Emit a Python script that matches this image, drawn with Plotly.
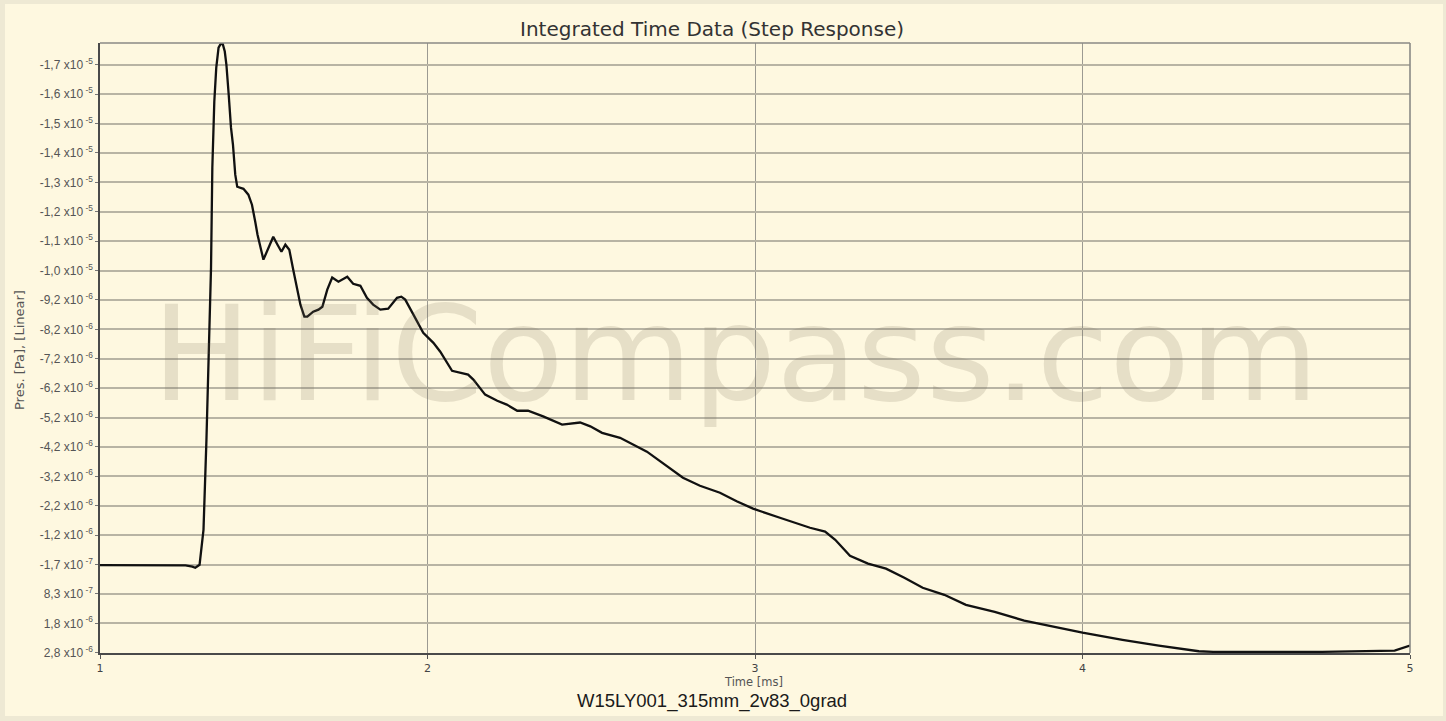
import plotly.graph_objects as go

# ---- data ----
time_ms = [1.000, 1.178, 1.261, 1.282, 1.291, 1.304, 1.310, 1.316, 1.325, 1.334, 1.339, 1.343,
           1.349, 1.355, 1.362, 1.368, 1.375, 1.381, 1.386, 1.393, 1.400, 1.406, 1.413, 1.419,
           1.429, 1.438, 1.453, 1.464, 1.474, 1.481, 1.499, 1.514, 1.529, 1.542, 1.554, 1.566,
           1.578, 1.590, 1.603, 1.612, 1.624, 1.633, 1.651, 1.667, 1.679, 1.694, 1.709, 1.728,
           1.755, 1.773, 1.795, 1.815, 1.834, 1.856, 1.880, 1.907, 1.920, 1.932, 1.957, 1.987,
           2.018, 2.039, 2.075, 2.124, 2.140, 2.176, 2.213, 2.242, 2.274, 2.307, 2.353, 2.411,
           2.466, 2.497, 2.533, 2.588, 2.670, 2.710, 2.780, 2.832, 2.893, 2.944, 2.994, 3.076,
           3.168, 3.214, 3.245, 3.290, 3.345, 3.400, 3.456, 3.512, 3.578, 3.644, 3.732, 3.822,
           3.911, 4.000, 4.122, 4.233, 4.355, 4.399, 4.732, 4.953, 5.000]
pressure_upa = [-0.15, -0.15, -0.14, -0.10, -0.06, -0.16, -0.67, -1.35, -4.41, -7.99, -10.26, -13.67,
                -15.91, -17.07, -17.75, -17.87, -17.87, -17.62, -17.17, -16.15, -15.03, -14.45, -13.43, -13.02,
                -12.99, -12.95, -12.75, -12.41, -11.83, -11.39, -10.54, -10.95, -11.32, -11.05, -10.81, -11.05,
                -10.88, -10.20, -9.45, -9.01, -8.60, -8.60, -8.77, -8.84, -8.94, -9.52, -9.93, -9.79,
                -9.96, -9.72, -9.65, -9.24, -9.01, -8.84, -8.87, -9.24, -9.28, -9.18, -8.67, -8.05,
                -7.71, -7.41, -6.76, -6.63, -6.46, -5.95, -5.74, -5.61, -5.40, -5.40, -5.21, -4.93,
                -5.00, -4.87, -4.65, -4.48, -4.01, -3.68, -3.12, -2.85, -2.61, -2.32, -2.07, -1.76,
                -1.42, -1.29, -1.01, -0.47, -0.20, -0.03, 0.28, 0.62, 0.86, 1.20, 1.44, 1.74,
                1.95, 2.15, 2.39, 2.59, 2.78, 2.80, 2.80, 2.76, 2.59]

y_tick_vals = [-17.17, -16.17, -15.17, -14.17, -13.17, -12.17, -11.17, -10.17, -9.17, -8.17, -7.17,
               -6.17, -5.17, -4.17, -3.17, -2.17, -1.17, -0.17, 0.83, 1.83, 2.83]
y_tick_mant = ["-1,7", "-1,6", "-1,5", "-1,4", "-1,3", "-1,2", "-1,1", "-1,0", "-9,2", "-8,2", "-7,2",
               "-6,2", "-5,2", "-4,2", "-3,2", "-2,2", "-1,2", "-1,7", "8,3", "1,8", "2,8"]
y_tick_exp = ["-5", "-5", "-5", "-5", "-5", "-5", "-5", "-5", "-6", "-6", "-6",
              "-6", "-6", "-6", "-6", "-6", "-6", "-7", "-7", "-6", "-6"]
x_tick_vals = [1, 2, 3, 4, 5]

title_text = "Integrated Time Data (Step Response)"
x_title = "Time [ms]"
y_title = "Pres. [Pa], [Linear]"
caption = "W15LY001_315mm_2v83_0grad"
watermark = "HiFiCompass.com"

W, H = 1446, 721
L, R, T, B = 100, 36, 43, 68
cream = "#FEF8E0"
frame = "#EEE9D4"

y_tick_text = [f"{m} x10<sup> {e}</sup>" for m, e in zip(y_tick_mant, y_tick_exp)]

fig = go.Figure()
fig.add_trace(go.Scatter(x=time_ms, y=pressure_upa, mode="lines",
                         line=dict(color="#111111", width=2.3), hoverinfo="x+y",
                         showlegend=False))

pw = W - L - R
ph = H - T - B

def px_x(p):
    return (p - L) / pw

def px_y(p):
    return (H - B - p) / ph

fig.update_layout(
    width=W, height=H,
    margin=dict(l=L, r=R, t=T, b=B),
    paper_bgcolor=frame,
    plot_bgcolor=cream,
    showlegend=False,
    xaxis=dict(range=[1, 5], tickvals=x_tick_vals, ticktext=[str(v) for v in x_tick_vals],
               showgrid=True, gridcolor="#9C9A92", gridwidth=1.3,
               showline=True, linecolor="#4A4A4A", linewidth=1.5,
               ticks="outside", ticklen=4, tickcolor="#555555",
               tickfont=dict(family="DejaVu Sans", size=11, color="#444444"),
               zeroline=False),
    yaxis=dict(range=[2.84, -17.91], tickvals=y_tick_vals, ticktext=y_tick_text,
               showgrid=True, gridcolor="#B8B4A4", gridwidth=1.6,
               showline=True, linecolor="#4A4A4A", linewidth=1.5,
               ticks="outside", ticklen=3, tickcolor="#777777",
               tickfont=dict(family="Liberation Sans", size=12, color="#555555"),
               zeroline=False),
    shapes=[
        dict(type="rect", xref="paper", yref="paper",
             x0=px_x(5), x1=px_x(W - 3), y0=px_y(H - 5), y1=px_y(4),
             fillcolor=cream, line=dict(width=0), layer="below"),
        dict(type="line", xref="paper", yref="paper", x0=0, x1=1, y0=1, y1=1,
             line=dict(color="#8A8A86", width=1.6)),
        dict(type="line", xref="paper", yref="paper", x0=1, x1=1, y0=0, y1=1,
             line=dict(color="#8A8A86", width=1.6)),
    ],
    annotations=[
        dict(text=watermark, xref="paper", yref="paper", x=px_x(735), y=px_y(354),
             xanchor="center", yanchor="middle", showarrow=False,
             font=dict(family="DejaVu Sans", size=132, color="rgba(120,110,90,0.18)")),
        dict(text=title_text, xref="paper", yref="paper", x=px_x(711.5), y=px_y(29),
             xanchor="center", yanchor="middle", showarrow=False,
             font=dict(family="DejaVu Sans", size=20, color="#333333")),
        dict(text=x_title, xref="paper", yref="paper", x=px_x(753), y=px_y(682),
             xanchor="center", yanchor="middle", showarrow=False,
             font=dict(family="DejaVu Sans", size=11.5, color="#555555")),
        dict(text=caption, xref="paper", yref="paper", x=px_x(711.5), y=px_y(701),
             xanchor="center", yanchor="middle", showarrow=False,
             font=dict(family="Liberation Sans", size=18.5, color="#1A1A1A")),
        dict(text=y_title, xref="paper", yref="paper", x=px_x(19), y=px_y(350),
             xanchor="center", yanchor="middle", showarrow=False, textangle=-90,
             font=dict(family="DejaVu Sans", size=13, color="#555555")),
    ],
)

fig.write_html("out.html", config={"displayModeBar": False},
               post_script="document.body.style.margin='0';")
